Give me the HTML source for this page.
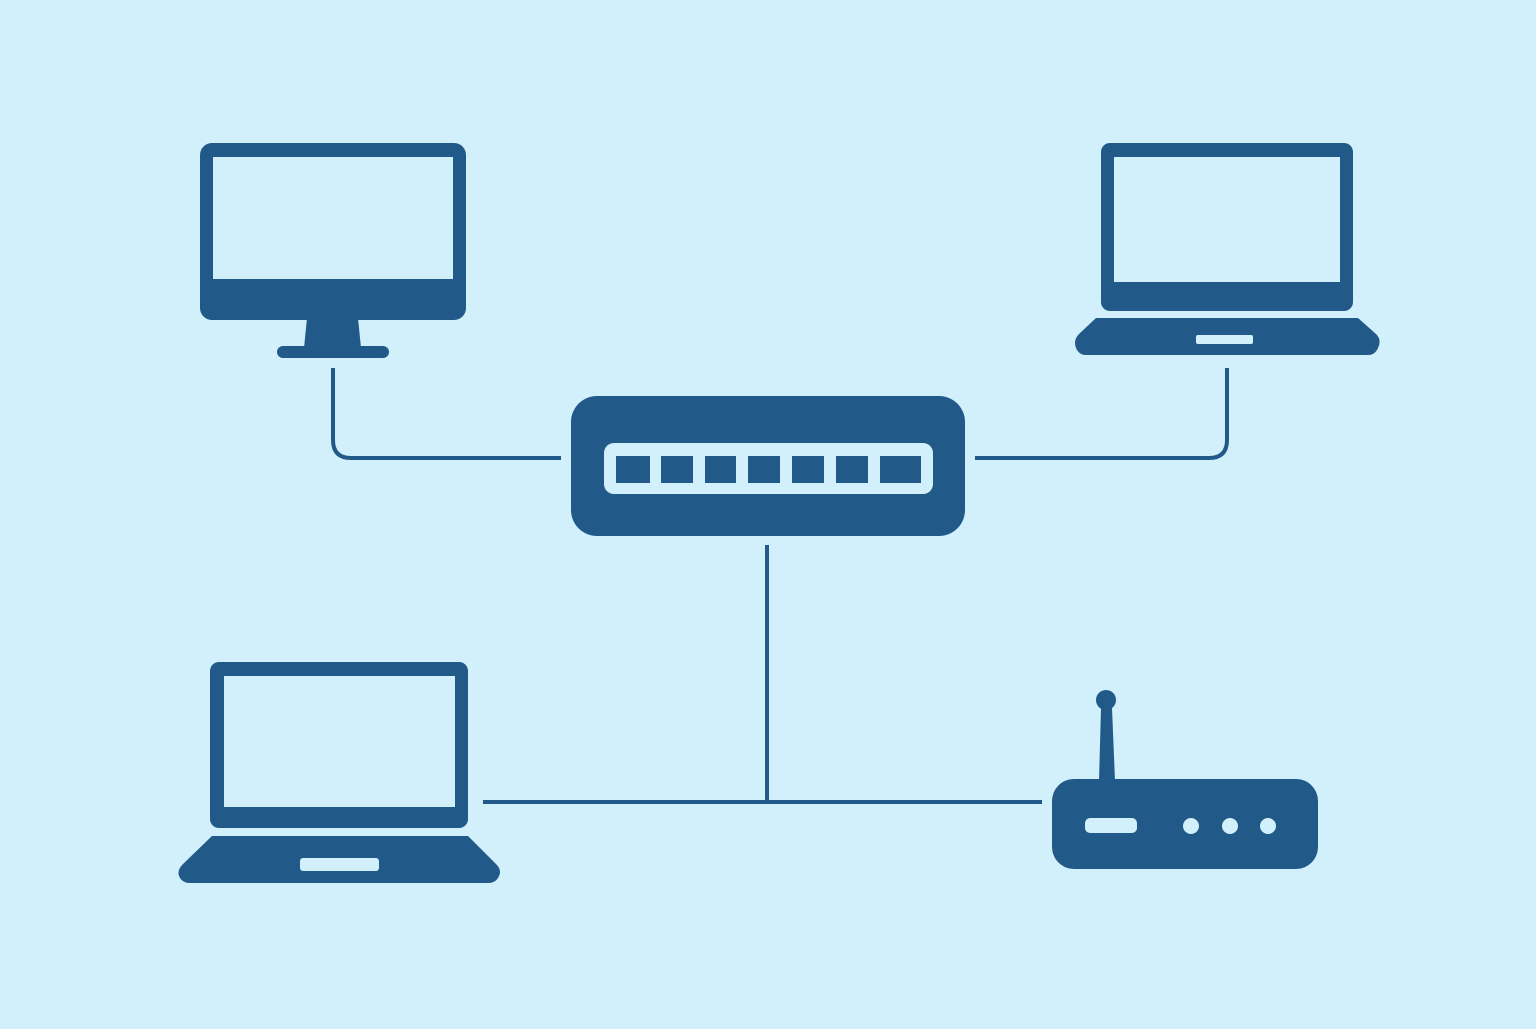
<!DOCTYPE html>
<html><head><style>html,body{margin:0;padding:0;background:#d2effc}</style></head>
<body>
<svg width="1536" height="1024" viewBox="0 0 1536 1024" xmlns="http://www.w3.org/2000/svg">
<rect width="1536" height="1024" fill="#d2effc"/>
<g fill="none" stroke="#215a88" stroke-width="4">
<path d="M333 368 V440 Q333 458 351 458 H561"/>
<path d="M975 458 H1209 Q1227 458 1227 440 V368"/>
<path d="M767 545 V802"/>
<path d="M483 802 H1042"/>
</g>
<g fill="#215a88">
<!-- monitor -->
<rect x="200" y="143" width="266" height="177" rx="12"/>
<path d="M307 318 H358 L361 348 H304 Z"/>
<rect x="277" y="346" width="112" height="12" rx="6"/>
<!-- switch -->
<rect x="571" y="396" width="394" height="140" rx="26"/>
<!-- top right laptop -->
<rect x="1101" y="143" width="252" height="168" rx="9"/>
<path d="M1096 318 H1358 L1376 334 Q1382 340 1378 348 Q1375 355 1368 355 H1086 Q1079 355 1076 348 Q1073 340 1079 334 Z"/>
<!-- bottom left laptop -->
<rect x="210" y="662" width="258" height="166" rx="9"/>
<path d="M212 836 H468 L496 864 Q502 870 499 876 Q496 883 488 883 H190 Q182 883 179 876 Q177 870 183 864 Z"/>
<!-- router -->
<rect x="1052" y="779" width="266" height="90" rx="22"/>
<path d="M1101 708 H1112 L1115 781 H1099 Z"/>
<circle cx="1106" cy="700" r="10"/>
</g>
<g fill="#d2effc">
<rect x="213" y="157" width="240" height="122"/>
<rect x="604" y="443" width="329" height="51" rx="10"/>
<rect x="1114" y="157" width="226" height="125"/>
<rect x="1196" y="335" width="57" height="9" rx="2"/>
<rect x="224" y="676" width="231" height="131"/>
<rect x="300" y="858" width="79" height="13" rx="3"/>
<rect x="1085" y="818" width="52" height="15" rx="5"/>
<circle cx="1191" cy="826" r="8"/>
<circle cx="1230" cy="826" r="8"/>
<circle cx="1268" cy="826" r="8"/>
</g>
<g fill="#215a88">
<rect x="616" y="456" width="34" height="27"/>
<rect x="661" y="456" width="32" height="27"/>
<rect x="705" y="456" width="31" height="27"/>
<rect x="748" y="456" width="32" height="27"/>
<rect x="792" y="456" width="32" height="27"/>
<rect x="836" y="456" width="32" height="27"/>
<rect x="880" y="456" width="41" height="27"/>
</g>
</svg>
</body></html>
